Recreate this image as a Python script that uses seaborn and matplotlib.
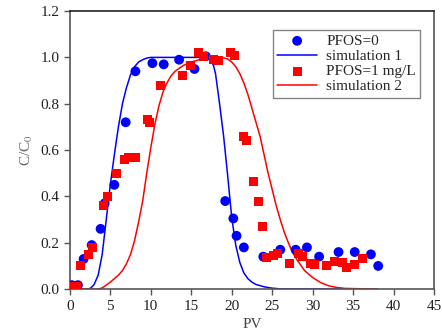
import numpy as np
import pandas as pd
import matplotlib
matplotlib.use("Agg")
import matplotlib.pyplot as plt
import seaborn as sns
from matplotlib.ticker import FormatStrFormatter

# measured points, PFOS = 0
pv_0 = [0.25, 1.0, 1.7, 2.7, 3.8, 4.3, 5.5, 6.9, 8.1, 10.2, 11.6, 13.5, 15.4, 16.8,
        19.2, 20.2, 20.6, 21.5, 23.9, 26.0, 27.9, 29.3, 30.8, 33.2, 35.2, 37.2, 38.1]
c_0 = [0.017, 0.017, 0.13, 0.19, 0.26, 0.37, 0.45, 0.72, 0.94, 0.975, 0.97, 0.99, 0.95, 1.005,
       0.38, 0.305, 0.23, 0.18, 0.14, 0.17, 0.17, 0.18, 0.14, 0.16, 0.16, 0.15, 0.10]

# measured points, PFOS = 1 mg/L
pv_1 = [0.25, 0.8, 1.3, 2.3, 2.8, 4.2, 4.7, 5.8, 6.7, 7.3, 8.1, 9.6, 9.8, 11.2, 13.9, 14.9,
        15.9, 16.5, 17.8, 18.4, 19.8, 20.3, 21.4, 21.8, 22.7, 23.3, 23.8, 24.3, 25.2, 25.7,
        27.2, 28.2, 28.8, 29.7, 30.2, 31.7, 32.7, 33.7, 34.2, 35.2, 36.2]
c_1 = [0.01, 0.01, 0.10, 0.15, 0.18, 0.36, 0.40, 0.50, 0.56, 0.57, 0.57, 0.73, 0.72, 0.88,
       0.92, 0.965, 1.02, 1.005, 0.99, 0.985, 1.02, 1.01, 0.66, 0.64, 0.465, 0.38, 0.27,
       0.135, 0.145, 0.155, 0.11, 0.155, 0.14, 0.11, 0.105, 0.10, 0.12, 0.115, 0.095, 0.105, 0.13]

# simulation 1 curve
sim1_x = [0, 2.3, 2.6, 3, 3.5, 4, 4.5, 5, 5.5, 6, 6.5, 7, 7.5, 8, 8.5, 9, 9.5, 10, 16.5,
          17, 17.4, 17.75, 18, 18.5, 19, 19.5, 20, 20.5, 21, 21.5, 22, 22.5, 23, 24, 25,
          26, 38]
sim1_y = [0, 0, 0.005, 0.02, 0.06, 0.15, 0.30, 0.45, 0.58, 0.70, 0.80, 0.87, 0.925, 0.96,
          0.98, 0.99, 0.997, 1.0, 1.0, 0.998, 0.99, 0.965, 0.93, 0.80, 0.66, 0.49, 0.31,
          0.19, 0.115, 0.07, 0.045, 0.03, 0.02, 0.01, 0.004, 0.001, 0]

# simulation 2 curve
sim2_x = [0, 3.5, 4, 5, 6, 6.5, 7, 7.5, 8, 8.5, 9, 9.5, 10, 10.5, 11, 11.5, 12, 12.5, 13,
          14, 15, 16, 17, 18, 19, 19.5, 20, 20.5, 21, 21.5, 22, 22.5, 23, 23.5, 24, 24.5,
          25, 25.5, 26, 26.5, 27, 27.5, 28, 29, 30, 31, 32, 33, 34, 38]
sim2_y = [0, 0, 0.005, 0.03, 0.06, 0.08, 0.11, 0.15, 0.21, 0.29, 0.38, 0.50, 0.61, 0.71,
          0.79, 0.85, 0.89, 0.92, 0.94, 0.965, 0.98, 0.99, 0.996, 0.999, 0.998, 0.993,
          0.98, 0.96, 0.93, 0.89, 0.84, 0.78, 0.72, 0.66, 0.58, 0.50, 0.43, 0.36, 0.30,
          0.245, 0.20, 0.16, 0.13, 0.08, 0.05, 0.028, 0.014, 0.007, 0.003, 0]

sns.set_style("ticks")
plt.rcParams["font.family"] = ["Liberation Serif", "DejaVu Serif"]
plt.rcParams["mathtext.fontset"] = "stix"

fig = plt.figure(figsize=(4.42, 3.35), dpi=100)
ax = fig.add_axes([0.158, 0.137, 0.824, 0.830])

sns.scatterplot(x=pv_0, y=c_0, ax=ax, color="#0000ff", marker="o", s=50,
                edgecolor="none", label="PFOS=0", zorder=3)
sns.lineplot(x=sim1_x, y=sim1_y, ax=ax, color="#0000ff", lw=1.1,
             label="simulation 1", zorder=2)
sns.scatterplot(x=pv_1, y=c_1, ax=ax, color="#ff0000", marker="s", s=42,
                edgecolor="none", label="PFOS=1 mg/L", zorder=3)
sns.lineplot(x=sim2_x, y=sim2_y, ax=ax, color="#ff0000", lw=1.1,
             label="simulation 2", zorder=2)

ax.set_xlim(0, 45)
ax.set_ylim(0, 1.2)
ax.set_xticks(range(0, 46, 5))
ax.set_yticks(np.arange(0, 1.21, 0.2))
ax.yaxis.set_major_formatter(FormatStrFormatter("%.1f"))
ax.tick_params(labelsize=11, length=4, width=1, colors="#555555", labelcolor="#222222")
for s in ax.spines.values():
    s.set_color("#555555")
    s.set_linewidth(1.2)
ax.spines["top"].set_color("#222222")

ax.set_xlabel("PV", fontsize=11, color="#444444")
ax.set_ylabel("C/C$_0$", fontsize=11, color="#666666")

leg = ax.legend(loc="upper right", bbox_to_anchor=(0.975, 0.95), fontsize=11,
                frameon=True, fancybox=False, edgecolor="#666666",
                handlelength=2.6, handletextpad=0.6, borderpad=0.3,
                labelspacing=0.1, borderaxespad=0.3)
leg.get_frame().set_linewidth(1.0)

fig.savefig("out.png", dpi=100)
